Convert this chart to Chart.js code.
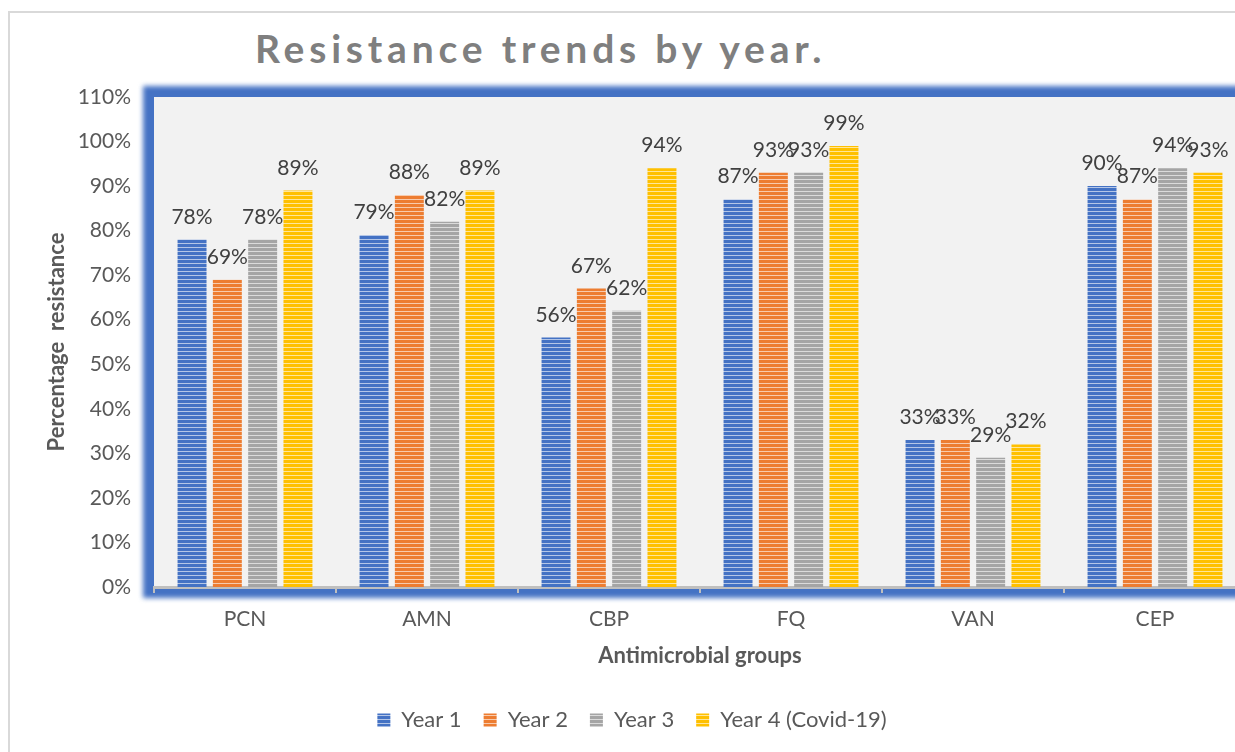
<!DOCTYPE html>
<html>
<head>
<meta charset="utf-8">
<title>Resistance trends by year.</title>
<script src="https://cdn.jsdelivr.net/npm/chart.js@4.4.1/dist/chart.umd.min.js"></script>
<style>
  html, body { margin: 0; padding: 0; background: #fff; overflow: hidden; }
  body { width: 1235px; height: 752px; position: relative; }
  #frame {
    position: absolute; left: 8px; top: 11px; width: 1300px; height: 800px;
    border-left: 2px solid #d9d9d9; border-top: 2px solid #d9d9d9;
  }
  #title {
    position: absolute; left: 255px; top: 25px; margin: 0;
    font: bold 39px Lato, sans-serif; letter-spacing: 4.8px; color: #7f7f7f;
    white-space: nowrap;
  }
  #chart { position: absolute; left: 0; top: 0; }
</style>
</head>
<body>
<div id="frame"></div>
<h1 id="title">Resistance trends by year.</h1>
<canvas id="chart" width="1260" height="752"></canvas>
<script>
// Antimicrobial groups and yearly resistance (%)
const groups = ['PCN', 'AMN', 'CBP', 'FQ', 'VAN', 'CEP'];
const year1 = [78, 79, 56, 87, 33, 90];
const year2 = [69, 88, 67, 93, 33, 87];
const year3 = [78, 82, 62, 93, 29, 94];
const year4 = [89, 89, 94, 99, 32, 93];
const seriesNames = ['Year 1', 'Year 2', 'Year 3', 'Year 4 (Covid-19)'];
const yTicks = [0, 10, 20, 30, 40, 50, 60, 70, 80, 90, 100, 110];

// horizontal stripe fill for the bars
function stripes(color, light) {
  const c = document.createElement('canvas');
  c.width = 4; c.height = 4;
  const g = c.getContext('2d');
  g.fillStyle = color; g.fillRect(0, 0, 4, 3);
  g.fillStyle = light; g.fillRect(0, 3, 4, 1);
  return g.createPattern(c, 'repeat');
}

const fills = [
  stripes('#4472c4', '#b4c6e7'),
  stripes('#ed7d31', '#f8cbad'),
  stripes('#a5a5a5', '#dbdbdb'),
  stripes('#ffc000', '#ffe699')
];

// blue bevel frame and grey plot background
const plotFrame = {
  id: 'plotFrame',
  beforeDraw(chart) {
    const { ctx, chartArea: a } = chart;
    ctx.save();
    ctx.filter = 'blur(2.5px)';
    ctx.fillStyle = '#4472c4';
    ctx.fillRect(a.left - 11, a.top - 11, a.right - a.left + 22, a.bottom - a.top + 22);
    ctx.filter = 'none';
    ctx.fillStyle = '#f2f2f2';
    ctx.fillRect(a.left, a.top, a.right - a.left, a.bottom - a.top);
    ctx.restore();
  }
};

// value labels above each bar
const valueLabels = {
  id: 'valueLabels',
  afterDatasetsDraw(chart) {
    const { ctx } = chart;
    ctx.save();
    ctx.font = '21px Lato, sans-serif';
    ctx.fillStyle = '#404040';
    ctx.textAlign = 'center';
    ctx.textBaseline = 'alphabetic';
    chart.data.datasets.forEach((ds, i) => {
      chart.getDatasetMeta(i).data.forEach((bar, j) => {
        ctx.fillText(ds.data[j] + '%', bar.x, bar.y - 16);
      });
    });
    ctx.restore();
  }
};

const series = [year1, year2, year3, year4];

new Chart(document.getElementById('chart'), {
  type: 'bar',
  data: {
    labels: groups,
    datasets: series.map((d, i) => ({
      label: seriesNames[i],
      data: d,
      backgroundColor: fills[i],
      borderWidth: 0,
      categoryPercentage: 0.776,
      barPercentage: 0.82
    }))
  },
  options: {
    responsive: false,
    animation: false,
    devicePixelRatio: 1,
    layout: { padding: { top: 97, left: 18, right: 14, bottom: 11 } },
    plugins: {
      tooltip: { enabled: false },
      legend: {
        position: 'bottom',
        labels: {
          boxWidth: 13, boxHeight: 13, padding: 22,
          color: '#595959',
          font: { family: 'Lato', size: 22 }
        }
      }
    },
    scales: {
      x: {
        grid: {
          display: true, drawOnChartArea: false, drawTicks: true,
          tickLength: 6, color: '#bfbfbf', lineWidth: 2
        },
        border: { display: true, color: '#bfbfbf', width: 3 },
        ticks: { color: '#595959', padding: 14, font: { family: 'Lato', size: 21 } },
        title: {
          display: true, text: 'Antimicrobial groups', color: '#595959',
          font: { family: 'Lato', size: 22, weight: 'bold' },
          padding: { top: 0, bottom: 18 }
        },
        afterFit(scale) { scale.height = 100; }
      },
      y: {
        min: 0, max: 110,
        afterBuildTicks(scale) { scale.ticks = yTicks.map(v => ({ value: v })); },
        grid: { display: false, drawTicks: false },
        border: { display: false },
        ticks: {
          color: '#595959', padding: 23,
          font: { family: 'Lato', size: 21 },
          callback: v => v + '%'
        },
        title: {
          display: true, text: 'Percentage  resistance', color: '#595959',
          font: { family: 'Lato', size: 22, weight: 'bold' },
          padding: { top: 26, bottom: 0 }
        },
        afterFit(scale) { scale.width = 136; }
      }
    }
  },
  plugins: [plotFrame, valueLabels]
});
</script>
</body>
</html>
